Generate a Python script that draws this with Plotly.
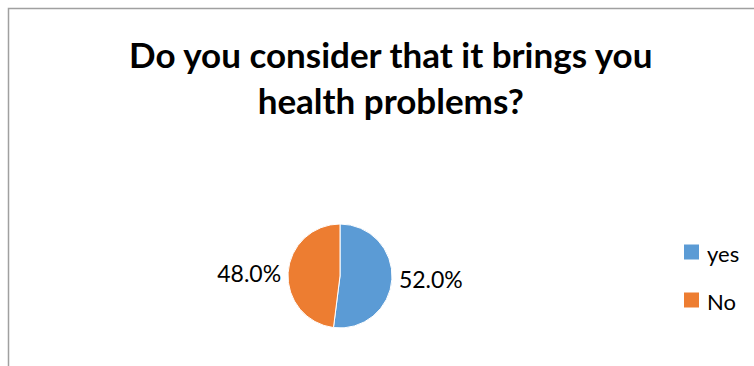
import plotly.graph_objects as go

# Survey answers and their shares
labels = ["yes", "No"]
shares = [52.0, 48.0]
colors = ["#5B9BD5", "#ED7D31"]

title_text = "Do you consider that it brings you<br>health problems?"

W, H = 754, 366
FONT = "Lato, 'Open Sans', sans-serif"

fig = go.Figure()

fig.add_trace(go.Pie(
    labels=labels,
    values=shares,
    sort=False,
    direction="clockwise",
    rotation=0,
    marker=dict(colors=colors, line=dict(color="white", width=1)),
    texttemplate="%{percent:.1%}",
    textposition="outside",
    textfont=dict(family=FONT, size=23, color="#000000"),
    domain=dict(x=[288 / W, 392 / W], y=[(H - 328) / H, (H - 224) / H]),
    hoverinfo="label+percent",
    showlegend=False,
))

# Chart-area frame
fig.add_shape(type="rect", xref="paper", yref="paper",
              x0=8.5 / W, x1=1.05, y0=-0.05, y1=(H - 8.5) / H,
              line=dict(color="#A0A0A0", width=1.5), fillcolor="rgba(0,0,0,0)")

# Title
fig.add_annotation(text="<b>" + title_text + "</b>", xref="paper", yref="paper",
                   x=390 / W, y=(H - 77) / H, xanchor="center", yanchor="middle",
                   showarrow=False, align="center",
                   font=dict(family=FONT, size=35, color="#000000"))

# Legend: one coloured square and label per answer
for i, (lab, col) in enumerate(zip(labels, colors)):
    yc = 252 + 48 * i  # row centre, px from top
    fig.add_shape(type="rect", xref="paper", yref="paper",
                  x0=684 / W, x1=699 / W, y0=(H - yc - 7.5) / H, y1=(H - yc + 7.5) / H,
                  line=dict(width=0), fillcolor=col)
    fig.add_annotation(text=lab, xref="paper", yref="paper",
                       x=705 / W, y=(H - yc - 1) / H, xanchor="left", yanchor="middle",
                       showarrow=False,
                       font=dict(family=FONT, size=22, color="#000000"))

fig.update_layout(
    width=W, height=H,
    margin=dict(l=0, r=0, t=0, b=0),
    paper_bgcolor="white",
    plot_bgcolor="white",
    showlegend=False,
)

fig.write_html("out.html")
